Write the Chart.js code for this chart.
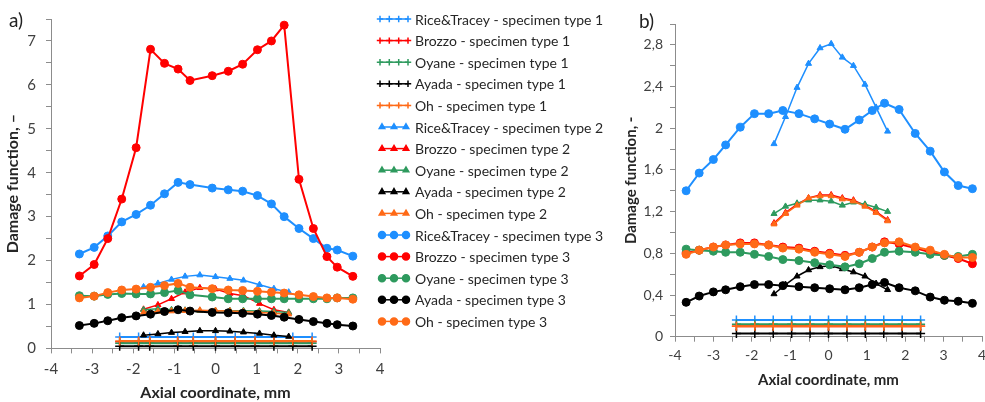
<!DOCTYPE html>
<html lang="en">
<head>
<meta charset="UTF-8">
<script src="https://cdn.jsdelivr.net/npm/chart.js@4.4.0/dist/chart.umd.min.js"></script>
<style>
  body { margin: 0; width: 985px; height: 402px; overflow: hidden; background: #fff; font-family: Lato, sans-serif; }
  .panel { position: absolute; top: 0; height: 402px; }
  #wrapA { left: 0; width: 610px; }
  #wrapB { left: 610px; width: 400px; }
  .tag { position: absolute; font-size: 19px; color: #222; line-height: 1; }
</style>
</head>
<body>
<div id="wrapA" class="panel"><canvas id="chartA" width="610" height="402"></canvas></div>
<div id="wrapB" class="panel"><canvas id="chartB" width="400" height="402"></canvas></div>
<div class="tag" style="left:9px;top:10px">a)</div>
<div class="tag" style="left:639px;top:11px">b)</div>
<script>
// series names / colours
const names = ['Rice&Tracey', 'Brozzo', 'Oyane', 'Ayada', 'Oh'];
const colors = ['#1E8FFF', '#FF0000', '#2E9A5E', '#000000', '#FF6A17'];
const typeLabels = ['specimen type 1', 'specimen type 2', 'specimen type 3'];

// tick labels
const xTickLabels = ['-4', '-3', '-2', '-1', '0', '1', '2', '3', '4'];
const yTickLabelsA = ['0', '1', '2', '3', '4', '5', '6', '7'];
const yTickLabelsB = ['0', '0,4', '0,8', '1,2', '1,6', '2', '2,4', '2,8'];

// panel a) - axial coordinates
const xA1 = [-2.33, -1.87, -1.6, -0.92, -0.54, 0, 0.48, 0.96, 1.42, 1.88, 2.35];
const xA2 = [-1.75, -1.4, -1.07, -0.74, -0.38, 0, 0.35, 0.68, 1.07, 1.42, 1.78];
const xA3 = [-3.31, -2.95, -2.62, -2.28, -1.93, -1.58, -1.24, -0.91, -0.62, -0.08, 0.31, 0.66, 1.02, 1.36, 1.67, 2.03, 2.38, 2.71, 2.96, 3.34];

// panel a) - specimen type 1
const aRice1 = [0.26, 0.26, 0.26, 0.26, 0.26, 0.26, 0.26, 0.26, 0.26, 0.26, 0.26];
const aBrozzo1 = [0.15, 0.15, 0.15, 0.15, 0.15, 0.15, 0.15, 0.15, 0.15, 0.15, 0.15];
const aOyane1 = [0.12, 0.12, 0.12, 0.12, 0.12, 0.12, 0.12, 0.12, 0.12, 0.12, 0.12];
const aAyada1 = [0.05, 0.05, 0.05, 0.05, 0.05, 0.05, 0.05, 0.05, 0.05, 0.05, 0.05];
const aOh1 = [0.17, 0.17, 0.17, 0.17, 0.17, 0.17, 0.17, 0.17, 0.17, 0.17, 0.17];

// panel a) - specimen type 2
const aRice2 = [1.40, 1.48, 1.57, 1.64, 1.67, 1.63, 1.59, 1.55, 1.45, 1.36, 1.28];
const aBrozzo2 = [0.89, 0.99, 1.13, 1.28, 1.38, 1.35, 1.25, 1.20, 1.02, 0.88, 0.82];
const aOyane2 = [0.88, 0.90, 0.88, 0.87, 0.86, 0.86, 0.86, 0.86, 0.85, 0.84, 0.82];
const aAyada2 = [0.30, 0.33, 0.36, 0.38, 0.40, 0.40, 0.39, 0.37, 0.34, 0.30, 0.27];
const aOh2 = [0.82, 0.84, 0.85, 0.86, 0.87, 0.86, 0.85, 0.84, 0.82, 0.80, 0.78];

// panel a) - specimen type 3
const aRice3 = [2.15, 2.30, 2.56, 2.88, 3.05, 3.26, 3.52, 3.78, 3.73, 3.65, 3.61, 3.58, 3.48, 3.29, 3.00, 2.73, 2.50, 2.28, 2.24, 2.10];
const aBrozzo3 = [1.65, 1.91, 2.50, 3.40, 4.57, 6.81, 6.49, 6.36, 6.10, 6.21, 6.31, 6.47, 6.80, 7.00, 7.36, 3.85, 2.73, 2.09, 1.85, 1.64];
const aOyane3 = [1.20, 1.19, 1.23, 1.25, 1.24, 1.24, 1.27, 1.32, 1.22, 1.17, 1.13, 1.13, 1.13, 1.13, 1.13, 1.13, 1.13, 1.13, 1.15, 1.15];
const aAyada3 = [0.52, 0.57, 0.63, 0.70, 0.74, 0.78, 0.84, 0.88, 0.85, 0.82, 0.81, 0.80, 0.78, 0.75, 0.71, 0.66, 0.61, 0.57, 0.54, 0.51];
const aOh3 = [1.15, 1.19, 1.27, 1.33, 1.35, 1.39, 1.43, 1.48, 1.39, 1.36, 1.33, 1.32, 1.30, 1.28, 1.26, 1.22, 1.18, 1.15, 1.15, 1.12];

// panel b) - axial coordinates
const xB1 = [-2.4, -1.92, -1.44, -0.96, -0.48, 0, 0.48, 0.96, 1.44, 1.92, 2.4];
const xB2 = [-1.42, -1.12, -0.82, -0.52, -0.22, 0.07, 0.36, 0.65, 0.95, 1.24, 1.54];
const xB3 = [-3.71, -3.37, -3.0, -2.68, -2.3, -1.93, -1.56, -1.19, -0.77, -0.36, 0.03, 0.43, 0.8, 1.14, 1.46, 1.84, 2.26, 2.65, 3.02, 3.38, 3.75];

// panel b) - specimen type 1
const bRice1 = [0.16, 0.16, 0.16, 0.16, 0.16, 0.16, 0.16, 0.16, 0.16, 0.16, 0.16];
const bBrozzo1 = [0.10, 0.10, 0.10, 0.10, 0.10, 0.10, 0.10, 0.10, 0.10, 0.10, 0.10];
const bOyane1 = [0.12, 0.12, 0.12, 0.12, 0.12, 0.12, 0.12, 0.12, 0.12, 0.12, 0.12];
const bAyada1 = [0.03, 0.03, 0.03, 0.03, 0.03, 0.03, 0.03, 0.03, 0.03, 0.03, 0.03];
const bOh1 = [0.10, 0.10, 0.10, 0.10, 0.10, 0.10, 0.10, 0.10, 0.10, 0.10, 0.10];

// panel b) - specimen type 2
const bRice2 = [1.85, 2.11, 2.39, 2.62, 2.77, 2.81, 2.68, 2.60, 2.42, 2.20, 1.97];
const bBrozzo2 = [1.09, 1.19, 1.27, 1.33, 1.36, 1.36, 1.33, 1.31, 1.26, 1.20, 1.12];
const bOyane2 = [1.18, 1.25, 1.28, 1.31, 1.31, 1.30, 1.26, 1.29, 1.27, 1.24, 1.20];
const bAyada2 = [0.41, 0.50, 0.58, 0.64, 0.67, 0.68, 0.65, 0.62, 0.58, 0.51, 0.45];
const bOh2 = [1.08, 1.18, 1.26, 1.33, 1.35, 1.35, 1.32, 1.30, 1.25, 1.19, 1.11];

// panel b) - specimen type 3
const bRice3 = [1.40, 1.57, 1.70, 1.84, 2.01, 2.14, 2.14, 2.17, 2.14, 2.09, 2.04, 1.99, 2.08, 2.17, 2.24, 2.18, 1.95, 1.78, 1.58, 1.45, 1.42];
const bBrozzo3 = [0.80, 0.83, 0.86, 0.88, 0.90, 0.90, 0.88, 0.86, 0.85, 0.82, 0.80, 0.78, 0.81, 0.86, 0.91, 0.89, 0.85, 0.81, 0.78, 0.75, 0.70];
const bOyane3 = [0.84, 0.83, 0.82, 0.81, 0.81, 0.79, 0.77, 0.74, 0.73, 0.71, 0.69, 0.67, 0.70, 0.75, 0.81, 0.82, 0.81, 0.79, 0.78, 0.77, 0.79];
const bAyada3 = [0.33, 0.39, 0.43, 0.45, 0.48, 0.50, 0.50, 0.49, 0.48, 0.47, 0.46, 0.45, 0.47, 0.50, 0.52, 0.47, 0.44, 0.38, 0.35, 0.34, 0.32];
const bOh3 = [0.79, 0.83, 0.86, 0.88, 0.89, 0.89, 0.88, 0.85, 0.84, 0.81, 0.79, 0.77, 0.81, 0.86, 0.90, 0.91, 0.86, 0.83, 0.79, 0.76, 0.76];

// marker / line look per specimen type
const styles = [
  { point: 'cross', r: 4.5, lw: 2, pbw: 1.5 },
  { point: 'triangle', r: 3.5, lw: 1.5, pbw: 1 },
  { point: 'circle', r: 4, lw: 2, pbw: 1 }
];

function build(groups) {
  const out = [];
  groups.forEach(([xs, ys], t) => {
    ys.forEach((arr, s) => {
      const st = styles[t];
      out.push({
        label: names[s] + ' - ' + typeLabels[t],
        data: arr.map((y, i) => ({ x: xs[i], y: y })),
        borderColor: colors[s],
        backgroundColor: colors[s],
        pointStyle: st.point,
        pointRadius: st.r,
        pointBorderWidth: st.pbw,
        borderWidth: st.lw,
        showLine: true,
        clip: false,
        order: 100 - out.length
      });
    });
  });
  return out;
}

const axisGrey = '#8c8c8c';
const textGrey = '#404040';

function axes(o) {
  return {
    x: {
      type: 'linear', min: -4, max: 4,
      afterFit: s => { s.height = o.xh; },
      ticks: {
        stepSize: 0.5, autoSkip: false, maxRotation: 0, padding: o.xpad,
        color: textGrey, font: { family: 'Lato', size: o.fs },
        callback: v => Math.abs(v - Math.round(v)) < 1e-6 ? xTickLabels[Math.round(v) + 4] : ''
      },
      grid: { drawOnChartArea: false, tickLength: 5, color: axisGrey },
      border: { color: axisGrey },
      title: {
        display: true, text: 'Axial coordinate, mm', color: '#262626',
        font: { family: 'Lato', size: o.tfs, weight: 'bold' },
        padding: { top: 0, bottom: o.xtp }
      }
    },
    y: {
      type: 'linear', min: 0, max: o.ymax,
      afterFit: s => { s.width = o.yw; },
      ticks: {
        stepSize: o.ystep, autoSkip: false, padding: o.ypad,
        color: textGrey, font: { family: 'Lato', size: o.fs },
        callback: v => {
          const k = Math.round(v / o.ystep);
          return k % 2 === 0 ? o.ylabels[k / 2] : '';
        }
      },
      grid: { drawOnChartArea: false, tickLength: 5, color: axisGrey },
      border: { color: axisGrey },
      title: {
        display: true, text: o.ytitle, color: '#262626',
        font: { family: 'Lato', size: o.tfs, weight: 'bold' },
        padding: { top: o.ytp, bottom: 0 }
      }
    }
  };
}

// legend to the right of panel a)
const sideLegend = {
  id: 'sideLegend',
  afterDraw(chart) {
    const ctx = chart.ctx;
    chart.data.datasets.forEach((ds, i) => {
      const y = 19 + i * 21.6;
      ctx.save();
      ctx.strokeStyle = ds.borderColor;
      ctx.fillStyle = ds.backgroundColor;
      ctx.lineWidth = 1.5;
      ctx.beginPath(); ctx.moveTo(380, y); ctx.lineTo(408, y); ctx.stroke();
      const marks = ds.pointStyle === 'cross' ? [380, 389.3, 398.7, 408] : [382, 394, 406];
      const r = ds.pointStyle === 'circle' ? 3.5 : 3.2;
      marks.forEach(mx => Chart.helpers.drawPoint(ctx, { pointStyle: ds.pointStyle, radius: r, borderWidth: 1.2, rotation: 0 }, mx, y));
      ctx.fillStyle = '#262626';
      ctx.font = '14px Lato';
      ctx.textBaseline = 'middle';
      ctx.fillText(ds.label, 415, y + 1);
      ctx.restore();
    });
  }
};

new Chart(document.getElementById('chartA'), {
  type: 'scatter',
  data: {
    datasets: build([
      [xA1, [aRice1, aBrozzo1, aOyane1, aAyada1, aOh1]],
      [xA2, [aRice2, aBrozzo2, aOyane2, aAyada2, aOh2]],
      [xA3, [aRice3, aBrozzo3, aOyane3, aAyada3, aOh3]]
    ])
  },
  options: {
    responsive: false, animation: false,
    layout: { padding: { top: 16, right: 230, bottom: 0, left: 0 } },
    plugins: { legend: { display: false }, tooltip: { enabled: false } },
    scales: axes({ xh: 53.6, xpad: 7, fs: 15, tfs: 16, xtp: 0, ymax: 7.5, ystep: 0.5, yw: 51, ypad: 10,
      ylabels: yTickLabelsA, ytitle: 'Damage function, \u2013', ytp: 3 })
  },
  plugins: [sideLegend]
});

new Chart(document.getElementById('chartB'), {
  type: 'scatter',
  data: {
    datasets: build([
      [xB1, [bRice1, bBrozzo1, bOyane1, bAyada1, bOh1]],
      [xB2, [bRice2, bBrozzo2, bOyane2, bAyada2, bOh2]],
      [xB3, [bRice3, bBrozzo3, bOyane3, bAyada3, bOh3]]
    ])
  },
  options: {
    responsive: false, animation: false,
    layout: { padding: { top: 24, right: 28, bottom: 0, left: 0 } },
    plugins: { legend: { display: false }, tooltip: { enabled: false } },
    scales: axes({ xh: 65.3, xpad: 5, fs: 14, tfs: 15, xtp: 13, ymax: 3, ystep: 0.2, yw: 65, ypad: 7,
      ylabels: yTickLabelsB, ytitle: 'Damage function, -', ytp: 12 })
  }
});
</script>
</body>
</html>
